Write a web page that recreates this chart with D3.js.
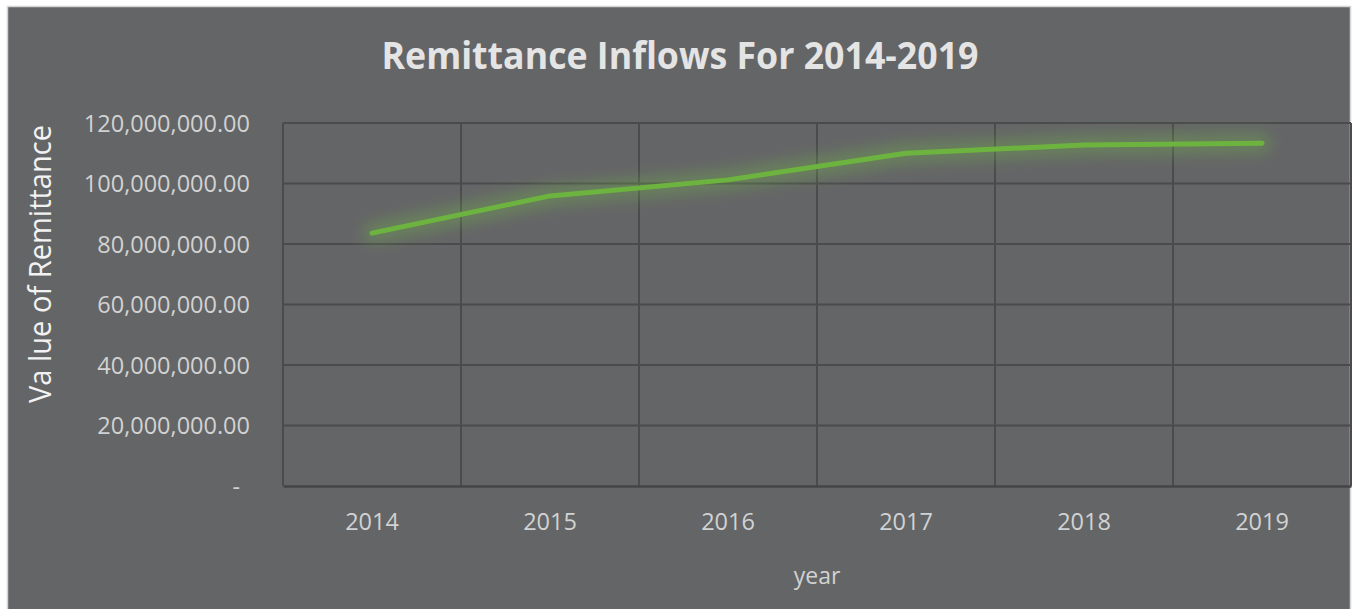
<!DOCTYPE html>
<html>
<head>
<meta charset="utf-8">
<script src="https://cdn.jsdelivr.net/npm/d3@7"></script>
<style>
  html, body { margin: 0; padding: 0; background: #ffffff; }
  svg { display: block; }
</style>
</head>
<body>
<svg id="chart" width="1352" height="609"></svg>
<script>
const years = ["2014", "2015", "2016", "2017", "2018", "2019"];
const remittance = [83600000, 95900000, 101200000, 110000000, 112700000, 113300000];
const yTicks = [0, 20000000, 40000000, 60000000, 80000000, 100000000, 120000000];
const titleText = "Remittance Inflows For 2014-2019";
const yTitle = "Va lue of Remittance";
const xTitle = "year";

const svg = d3.select("#chart");
const plot = { left: 283, right: 1351, top: 123, bottom: 486 };

// chart area background
svg.append("rect")
  .attr("x", 7.5).attr("y", 6.5)
  .attr("width", 1343).attr("height", 612)
  .attr("fill", "#646567")
  .attr("stroke", "#d4d4d4").attr("stroke-width", 1.5);

const defs = svg.append("defs");
const f = defs.append("filter").attr("id", "glow")
  .attr("x", "-10%").attr("y", "-60%").attr("width", "120%").attr("height", "220%");
f.append("feGaussianBlur").attr("stdDeviation", 8);

const x = d3.scaleBand().domain(years).range([plot.left, plot.right]);
const y = d3.scaleLinear().domain([0, 120000000]).range([plot.bottom, plot.top]);

const grid = svg.append("g");
grid.selectAll("line.h").data(yTicks.filter(d => d > 0)).enter().append("line")
  .attr("x1", plot.left).attr("x2", plot.right)
  .attr("y1", d => y(d)).attr("y2", d => y(d))
  .attr("stroke", "#4b4b4d").attr("stroke-width", 2);
const bounds = years.map(d => x(d)).concat([plot.right]);
grid.selectAll("line.v").data(bounds).enter().append("line")
  .attr("x1", d => d).attr("x2", d => d)
  .attr("y1", plot.top).attr("y2", plot.bottom)
  .attr("stroke", "#4b4b4d").attr("stroke-width", 2);

// y axis labels
const fmt = d3.format(",.2f");
const yAxis = d3.axisLeft(y).tickValues(yTicks).tickSize(0).tickPadding(0)
  .tickFormat(d => d === 0 ? "-" : fmt(d));
const gy = svg.append("g").attr("transform", `translate(${250},0)`).call(yAxis);
gy.select(".domain").remove();
gy.selectAll("text")
  .attr("fill", "#d2d2d2")
  .style("font-family", "'Open Sans', sans-serif")
  .style("font-size", "23.5px")
  .attr("dy", "0.34em");
gy.selectAll(".tick").filter(d => d === 0).select("text").attr("x", -10);

// x axis
const xAxis = d3.axisBottom(x).tickSize(0).tickPadding(0);
const gx = svg.append("g").attr("transform", `translate(0,${plot.bottom})`).call(xAxis);
gx.select(".domain").attr("stroke", "#454547").attr("stroke-width", 2.5);
gx.selectAll("text")
  .attr("fill", "#d2d2d2")
  .attr("y", 44)
  .attr("dy", 0)
  .style("font-family", "'Open Sans', sans-serif")
  .style("font-size", "23.5px");

// line with glow
const line = d3.line()
  .x((d, i) => x(years[i]) + x.bandwidth() / 2)
  .y(d => y(d));
svg.append("path").datum(remittance)
  .attr("d", line)
  .attr("fill", "none")
  .attr("stroke", "#74b843")
  .attr("stroke-opacity", 0.4)
  .attr("stroke-width", 18)
  .attr("stroke-linecap", "round")
  .attr("stroke-linejoin", "round")
  .attr("filter", "url(#glow)");
svg.append("path").datum(remittance)
  .attr("d", line)
  .attr("fill", "none")
  .attr("stroke", "#6db33f")
  .attr("stroke-width", 5)
  .attr("stroke-linecap", "round")
  .attr("stroke-linejoin", "round");

// title
svg.append("text")
  .attr("x", 680).attr("y", 69)
  .attr("text-anchor", "middle")
  .attr("fill", "#e4e4e4")
  .attr("textLength", 597).attr("lengthAdjust", "spacingAndGlyphs")
  .style("font-family", "'Open Sans', sans-serif")
  .style("font-weight", "bold")
  .style("font-size", "37px")
  .text(titleText);

// y title
svg.append("text")
  .attr("transform", `translate(51,264) rotate(-90)`)
  .attr("text-anchor", "middle")
  .attr("fill", "#f2f2f2")
  .attr("textLength", 278).attr("lengthAdjust", "spacingAndGlyphs")
  .style("font-family", "'Open Sans', sans-serif")
  .style("font-size", "31px")
  .text(yTitle);

// x title
svg.append("text")
  .attr("x", 817).attr("y", 584)
  .attr("text-anchor", "middle")
  .attr("fill", "#d2d2d2")
  .style("font-family", "'Open Sans', sans-serif")
  .style("font-size", "23px")
  .text(xTitle);
</script>
</body>
</html>
